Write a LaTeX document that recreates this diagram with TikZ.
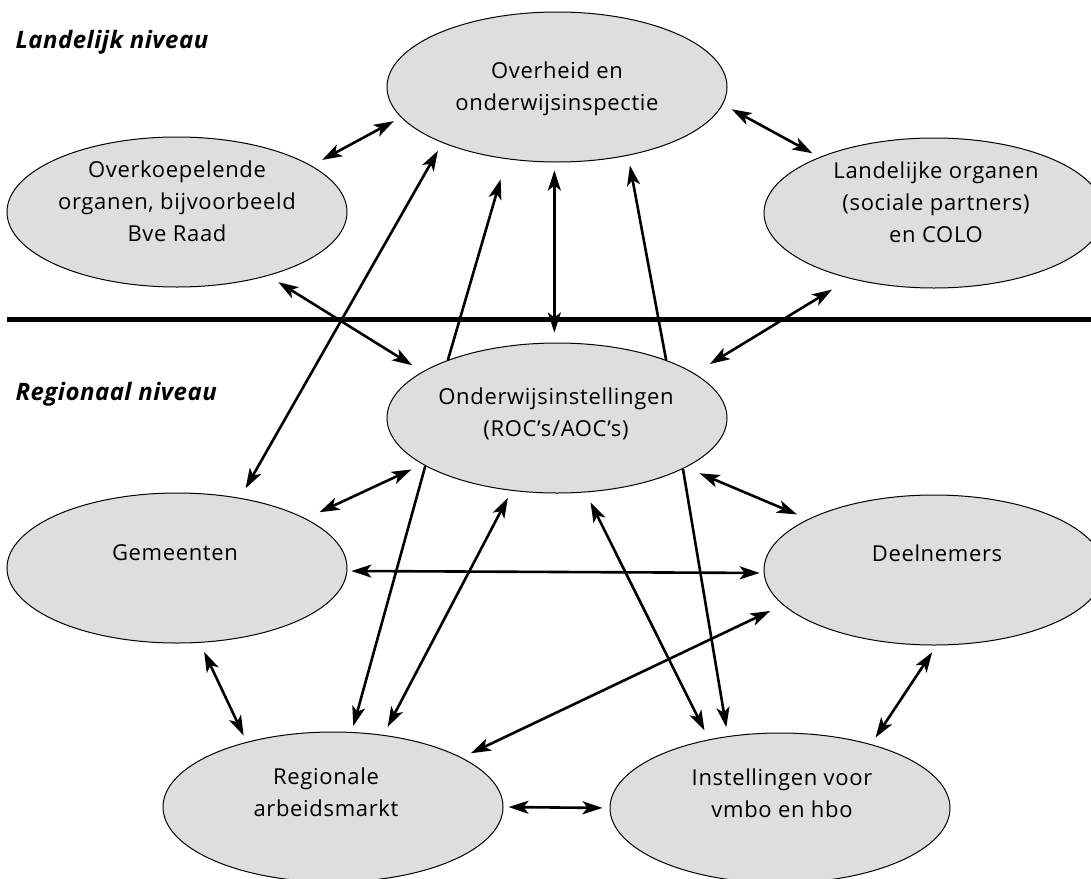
\documentclass[tikz,border=0pt]{standalone}
\usepackage{fontspec}
\setmainfont{Open Sans}
\usetikzlibrary{shapes.geometric,arrows.meta}
\definecolor{ink}{HTML}{000000}
\definecolor{bubble}{HTML}{DEDEDE}
\tikzset{
  blob/.style={ellipse, draw=ink, line width=1pt, fill=bubble, minimum width=340pt, minimum height=150pt, inner sep=0pt},
  txt/.style={align=center, text=ink, font=\fontsize{22}{32}\selectfont\addfontfeature{LetterSpace=3}},
  lvl/.style={anchor=base west, text=ink, font=\fontsize{24}{28}\selectfont\bfseries\itshape\addfontfeature{LetterSpace=2}},
  link/.style={draw=ink, line width=2.6pt},
  divider/.style={draw=ink, line width=5pt},
}

\begin{document}
\begin{tikzpicture}[x=1pt, y=-1pt, >={Stealth[length=20pt,width=13pt,inset=5pt]}]
  \useasboundingbox (0,0) rectangle (1091,878);
  % ellipses
  \node[blob] (ovh) at (557,87) {};
  \node[blob] (ovk) at (177,212) {};
  \node[blob] (lan) at (934,213) {};
  \node[blob] (ond) at (557,418) {};
  \node[blob] (gem) at (177,568) {};
  \node[blob] (dln) at (934,570) {};
  \node[blob] (reg) at (333,807) {};
  \node[blob] (ins) at (780,808) {};
  \node[txt] (ovhT) at (557,89) {Overheid en\\onderwijsinspectie};
  \node[txt] (ovkT) at (177,201) {Overkoepelende\\organen, bijvoorbeeld\\Bve Raad};
  \node[txt] (lanT) at (936,202) {Landelijke organen\\(sociale partners)\\en COLO};
  \node[txt] (ondT) at (556,414) {Onderwijsinstellingen\\(ROC’s/AOC’s)};
  \node[txt] (gemT) at (175,553) {Gemeenten};
  \node[txt] (dlnT) at (937,553) {Deelnemers};
  \node[txt] (regT) at (326,792) {Regionale\\arbeidsmarkt};
  \node[txt] (insT) at (782,793) {Instellingen voor\\vmbo en hbo};
  % levels
  \node[lvl] (landelijk) at (12,48) {Landelijk niveau};
  \node[lvl] (regionaal) at (12,400) {Regionaal niveau};
  \coordinate (sepL) at (7,319);
  \coordinate (sepR) at (1091,319);
  \draw[divider] (sepL) -- (sepR);
  % national level
  \draw[link, <->, shorten <=12pt, shorten >=8pt] (ovk.19) -- (ovh.191);
  \draw[link, <->, shorten <=10pt, shorten >=8pt] (ovh.354) -- (lan.154);
  \draw[link, <->, shorten <=8pt, shorten >=10pt] (ovh.268) -- (ond.92);
  \draw[link, <->, shorten <=12pt, shorten >=12pt] (ovk.325) -- (ond.161);
  \draw[link, <->, shorten <=21pt, shorten >=18pt] (lan.218) -- (ond.18);
  \draw[link, <->, shorten <=11pt, shorten >=9pt] (gem.48) -- (ovh.206);
  \draw[link, ->, shorten >=21pt] (ond.152) -- (ovh.235);
  \draw[link, ->, shorten >=10pt] (ond.28) -- (ovh.316);
  % regional level
  \draw[link, <->, shorten <=15pt, shorten >=12pt] (gem.21) -- (ond.199);
  \draw[link, <->, shorten <=15pt, shorten >=12pt] (ond.339) -- (dln.158);
  \draw[link, <->, shorten <=4pt, shorten >=4pt] (gem.359) -- (dln.181);
  \draw[link, ->, shorten >=6pt] (ond.200) -- (reg.76);
  \draw[link, <->, shorten <=9pt, shorten >=8pt] (reg.55) -- (ond.238);
  \draw[link, <->, shorten <=14pt, shorten >=10pt] (dln.193) -- (reg.21);
  \draw[link, <->, shorten <=11pt, shorten >=10pt] (ond.291) -- (ins.136);
  \draw[link, ->, shorten >=9pt] (ond.338) -- (ins.126);
  \draw[link, <->, shorten <=10pt, shorten >=7pt] (gem.287) -- (reg.143);
  \draw[link, <->, shorten <=8pt, shorten >=8pt] (dln.272) -- (ins.35);
  \draw[link, <->, shorten <=5pt, shorten >=7pt] (reg.east) -- (ins.west);
\end{tikzpicture}
\end{document}
